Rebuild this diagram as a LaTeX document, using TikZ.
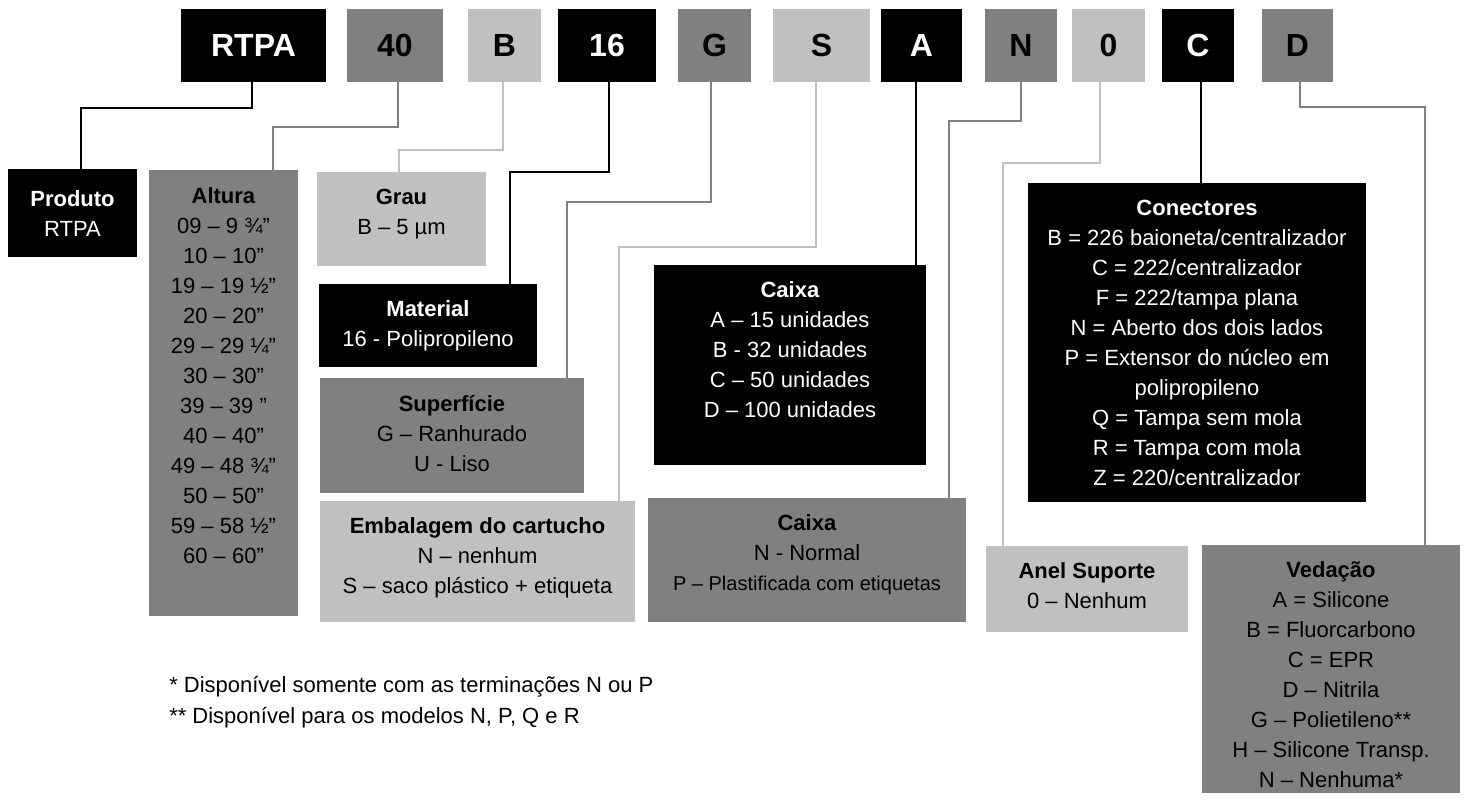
\documentclass[tikz,border=0pt]{standalone}
\usepackage{fontspec}
\setmainfont{Liberation Sans}
\definecolor{gA}{HTML}{808080}
\definecolor{gB}{HTML}{C0C0C0}
\tikzset{
  cbox/.style={rectangle, inner sep=0pt, draw=none},
  codet/.style={font=\fontsize{24}{28}\selectfont\bfseries},
  txt/.style={inner sep=0pt, align=center, anchor=north, font=\fontsize{16.5}{22.5}\selectfont},
  ln/.style={line width=1pt},
}
\newcommand\mkcode[6]{\node[cbox, codet, fill=#5, text=#6, minimum width={(#4-#3)*0.75pt}, minimum height={73*0.75pt}] (#1) at ({(#3+#4)/2},45.5) {#2};}
\newcommand\mkbox[6]{\node[cbox, fill=#6, minimum width={(#4-#2)*0.75pt}, minimum height={(#5-#3)*0.75pt}] (#1) at ({(#2+#4)/2},{(#3+#5)/2}) {};}
\begin{document}
\begin{tikzpicture}[x=0.75pt, y=-0.75pt]
\useasboundingbox (0,0) rectangle (1468,803);
% code row
\mkcode{cRTPA}{RTPA}{181}{326}{black}{white}
\mkcode{c40}{40}{347}{443}{gA}{black}
\mkcode{cB}{B}{468}{541}{gB}{black}
\mkcode{c16}{16}{558}{656}{black}{white}
\mkcode{cG}{G}{678}{751}{gA}{black}
\mkcode{cS}{S}{773}{870}{gB}{black}
\mkcode{cA}{A}{881}{962}{black}{white}
\mkcode{cN}{N}{985}{1057}{gA}{black}
\mkcode{c0}{0}{1072}{1145}{gB}{black}
\mkcode{cC}{C}{1162}{1234}{black}{white}
\mkcode{cD}{D}{1262}{1333}{gA}{black}
% description boxes
\mkbox{produto}{8}{169}{137}{257}{black}
\mkbox{altura}{149}{170}{298}{616}{gA}
\mkbox{grau}{317}{172}{486}{266}{gB}
\mkbox{material}{319}{284}{537}{367}{black}
\mkbox{superf}{320}{378}{584}{493}{gA}
\mkbox{embal}{320}{501}{635}{622}{gB}
\mkbox{caixaA}{654}{265}{926}{465}{black}
\mkbox{caixaB}{648}{498}{966}{622}{gA}
\mkbox{conect}{1028}{183}{1366}{502}{black}
\mkbox{anel}{986}{546}{1188}{632}{gB}
\mkbox{vedacao}{1202}{545}{1460}{793}{gA}
% texts
\node[txt, text=white] (produtoT) at ([yshift=-16.5pt]produto.north) {\textbf{Produto}\\RTPA};
\node[txt] (alturaT) at ([yshift=-13.5pt]altura.north) {\textbf{Altura}\\09 – 9 ¾”\\10 – 10”\\19 – 19 ½”\\20 – 20”\\29 – 29 ¼”\\30 – 30”\\39 – 39 ”\\40 – 40”\\49 – 48 ¾”\\50 – 50”\\59 – 58 ½”\\60 – 60”};
\node[txt] (grauT) at ([yshift=-12.75pt]grau.north) {\textbf{Grau}\\B – 5 µm};
\node[txt, text=white] (materialT) at ([yshift=-12.75pt]material.north) {\textbf{Material}\\16 - Polipropileno};
\node[txt] (superfT) at ([yshift=-12.75pt]superf.north) {\textbf{Superfície}\\G – Ranhurado\\U - Liso};
\node[txt] (embalT) at ([yshift=-12.75pt]embal.north) {\textbf{Embalagem do cartucho}\\N – nenhum\\S – saco plástico + etiqueta};
\node[txt, text=white] (caixaAT) at ([yshift=-12.75pt]caixaA.north) {\textbf{Caixa}\\A – 15 unidades\\B - 32 unidades\\C – 50 unidades\\D – 100 unidades};
\node[txt] (caixaBT) at ([yshift=-12.75pt]caixaB.north) {\textbf{Caixa}\\N - Normal\\{\fontsize{15}{22.5}\selectfont P – Plastificada com etiquetas}};
\node[txt, text=white] (conectT) at ([yshift=-12.75pt]conect.north) {\textbf{Conectores}\\B = 226 baioneta/centralizador\\C = 222/centralizador\\F = 222/tampa plana\\N = Aberto dos dois lados\\P = Extensor do núcleo em\\polipropileno\\Q = Tampa sem mola\\R = Tampa com mola\\Z = 220/centralizador};
\node[txt] (anelT) at ([yshift=-12.75pt]anel.north) {\textbf{Anel Suporte}\\0 – Nenhum};
\node[txt] (vedacaoT) at ([yshift=-12.75pt]vedacao.north) {\textbf{Vedação}\\A = Silicone\\B = Fluorcarbono\\C = EPR\\D – Nitrila\\G – Polietileno**\\H – Silicone Transp.\\N – Nenhuma*};
% footnotes
\node[inner sep=0pt, anchor=north west, align=left, font=\fontsize{16.5}{23.25}\selectfont] (notes) at (169,676) {* Disponível somente com as terminações N ou P\\** Disponível para os modelos N, P, Q e R};
% connectors
\draw[ln, black] (252,0 |- cRTPA.south) |- (81,108) -- (81,0 |- produto.north);
\draw[ln, gA] (398,0 |- c40.south) |- (273,127) -- (273,0 |- altura.north);
\draw[ln, gB] (503,0 |- cB.south) |- (399,150) -- (399,0 |- grau.north);
\draw[ln, black] (609,0 |- c16.south) |- (510,172) -- (510,0 |- material.north);
\draw[ln, gA] (711,0 |- cG.south) |- (567,202) -- (567,0 |- superf.north);
\draw[ln, gB] (816,0 |- cS.south) |- (619,247) -- (619,0 |- embal.north);
\draw[ln, black] (916,0 |- cA.south) -- (916,0 |- caixaA.north);
\draw[ln, gA] (1021,0 |- cN.south) |- (949,121) -- (949,0 |- caixaB.north);
\draw[ln, gB] (1100,0 |- c0.south) |- (1003,163) -- (1003,0 |- anel.north);
\draw[ln, black] (1201,0 |- cC.south) -- (1201,0 |- conect.north);
\draw[ln, gA] (1300,0 |- cD.south) |- (1425,107) -- (1425,0 |- vedacao.north);
\end{tikzpicture}
\end{document}
